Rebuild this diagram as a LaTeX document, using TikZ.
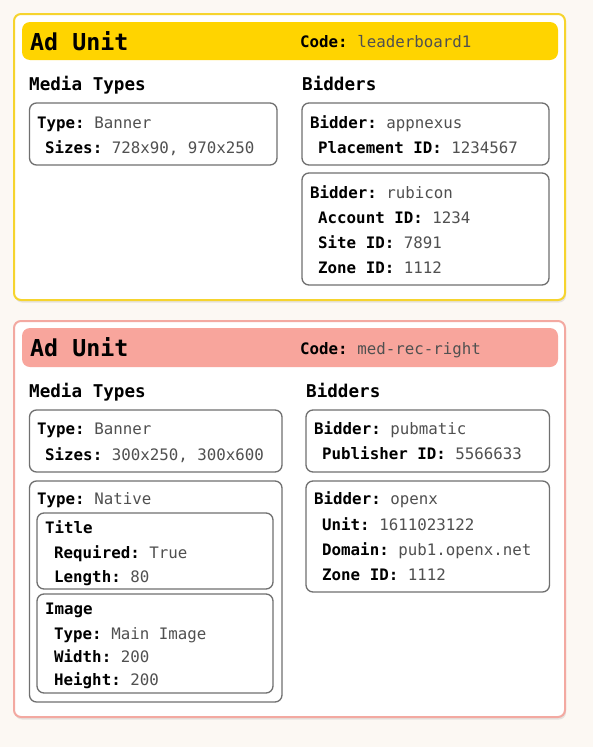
\documentclass[tikz,border=0pt]{standalone}
\usepackage{fontspec}
\setmonofont{DejaVu Sans Mono}
\usetikzlibrary{shadows}
\definecolor{bg}{HTML}{FCF8F3}
\definecolor{ylwborder}{HTML}{F6D42E}
\definecolor{ylwhead}{HTML}{FFD400}
\definecolor{redborder}{HTML}{F3A9A1}
\definecolor{redhead}{HTML}{F8A59C}
\definecolor{boxgray}{HTML}{707070}
\definecolor{valgray}{HTML}{505050}
\newcommand\kvpair[2]{\textbf{#1} \textcolor{valgray}{\mdseries #2}}
\tikzset{
  unitbox/.style={line width=2pt, rounded corners=7pt, fill=white,
    drop shadow={opacity=0.18, shadow xshift=1pt, shadow yshift=-2.5pt}},
  headbar/.style={rounded corners=8pt},
  itembox/.style={draw=boxgray, line width=1.3pt, rounded corners=7pt},
  txt/.style={anchor=base west, inner sep=0pt, font=\fontsize{15.8}{19}\selectfont\ttfamily},
  ttl/.style={anchor=base west, inner sep=0pt, font=\fontsize{23.3}{26}\selectfont\ttfamily\bfseries},
  sec/.style={anchor=base west, inner sep=0pt, font=\fontsize{17.6}{21}\selectfont\ttfamily\bfseries},
}
\begin{document}
\begin{tikzpicture}[x=1pt,y=-1pt]
\fill[bg] (0,0) rectangle (593,747);
\useasboundingbox (0,0) rectangle (593,747);

% ---------- Ad unit 1 ----------
\draw[unitbox, draw=ylwborder] (14,14) rectangle (565,300);
\fill[ylwhead, headbar] (22,22) rectangle (558,60);
\node[ttl] (u1title) at (30,50) {Ad Unit};
\node[txt] (u1code) at (300,47.5) {\kvpair{Code:}{leaderboard1}};
\node[sec] (u1media) at (29,90.5) {Media Types};
\node[sec] (u1bid) at (302,90.5) {Bidders};

\draw[itembox] (29.5,103) rectangle (277,165);
\node[txt] (b1a) at (37,128.5) {\kvpair{Type:}{Banner}};
\node[txt] (b1b) at (45,153.5) {\kvpair{Sizes:}{728x90, 970x250}};

\draw[itembox] (302,103) rectangle (549,165);
\node[txt] (an1) at (310,128.5) {\kvpair{Bidder:}{appnexus}};
\node[txt] (an2) at (318,153.5) {\kvpair{Placement ID:}{1234567}};

\draw[itembox] (302,173) rectangle (549,285);
\node[txt] (rb1) at (310,198.5) {\kvpair{Bidder:}{rubicon}};
\node[txt] (rb2) at (318,223.5) {\kvpair{Account ID:}{1234}};
\node[txt] (rb3) at (318,248.5) {\kvpair{Site ID:}{7891}};
\node[txt] (rb4) at (318,273.5) {\kvpair{Zone ID:}{1112}};

% ---------- Ad unit 2 ----------
\draw[unitbox, draw=redborder] (14,321) rectangle (565,717);
\fill[redhead, headbar] (22,328) rectangle (558,367);
\node[ttl] (u2title) at (30,356.5) {Ad Unit};
\node[txt] (u2code) at (300,354.5) {\kvpair{Code:}{med-rec-right}};
\node[sec] (u2media) at (29,397.5) {Media Types};
\node[sec] (u2bid) at (306,397.5) {Bidders};

\draw[itembox] (29.5,410) rectangle (282,472);
\node[txt] (b2a) at (37,434.5) {\kvpair{Type:}{Banner}};
\node[txt] (b2b) at (45,460) {\kvpair{Sizes:}{300x250, 300x600}};

\draw[itembox] (29.5,481) rectangle (282,702);
\node[txt] (nt) at (37,504.5) {\kvpair{Type:}{Native}};

\draw[itembox] (37,513) rectangle (273,589);
\node[txt] (ti0) at (45,533.5) {\textbf{Title}};
\node[txt] (ti1) at (54,558.5) {\kvpair{Required:}{True}};
\node[txt] (ti2) at (54,582.5) {\kvpair{Length:}{80}};

\draw[itembox] (37,594) rectangle (273,693);
\node[txt] (im0) at (45,614.5) {\textbf{Image}};
\node[txt] (im1) at (54,639.5) {\kvpair{Type:}{Main Image}};
\node[txt] (im2) at (54,662.5) {\kvpair{Width:}{200}};
\node[txt] (im3) at (54,685.5) {\kvpair{Height:}{200}};

\draw[itembox] (306,410) rectangle (549.5,472);
\node[txt] (pm1) at (314,434.5) {\kvpair{Bidder:}{pubmatic}};
\node[txt] (pm2) at (322,459.5) {\kvpair{Publisher ID:}{5566633}};

\draw[itembox] (306,481) rectangle (549.5,592);
\node[txt] (ox1) at (314,504.5) {\kvpair{Bidder:}{openx}};
\node[txt] (ox2) at (322,530.5) {\kvpair{Unit:}{1611023122}};
\node[txt] (ox3) at (322,555.5) {\kvpair{Domain:}{pub1.openx.net}};
\node[txt] (ox4) at (322,580.5) {\kvpair{Zone ID:}{1112}};
\end{tikzpicture}
\end{document}
